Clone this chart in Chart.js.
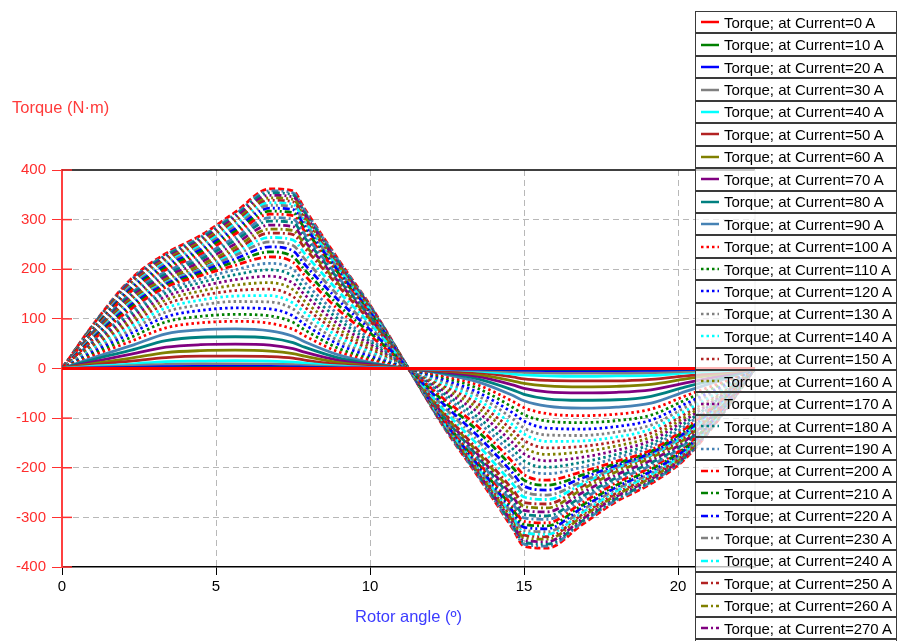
<!DOCTYPE html>
<html>
<head>
<meta charset="utf-8">
<title>Torque vs rotor angle</title>
<script src="https://cdn.jsdelivr.net/npm/chart.js@4/dist/chart.umd.min.js"></script>
<style>
    html, body { margin: 0; padding: 0; background: #fff; overflow: hidden; }
    #wrap { position: relative; width: 897px; height: 641px; }
    #ytitle { position: absolute; left: 12px; top: 98px; font: 16.5px "Liberation Sans", Arial, sans-serif; color: #ff3b3b; }
    #legend { position: absolute; left: 695px; top: 11px; width: 202px; }
    .row { box-sizing: border-box; height: 22.45px; border: 1px solid #3a3a3a; background: rgba(255, 255, 255, 0.72);
           display: flex; align-items: center; font: 15px "Liberation Sans", Arial, sans-serif; color: #000; white-space: nowrap; }
    .row svg { margin: 0 5px 0 5px; flex: none; }
</style>
</head>
<body>
<div id="wrap">
    <canvas id="torqueChart" width="897" height="641"></canvas>
    <div id="ytitle">Torque (N·m)</div>
    <div id="legend"></div>
</div>
<script>
// rotor angle (deg)
const angles = [0, 1.125, 2.25, 3.375, 4.5, 5.625, 6.75, 7.5, 7.875, 9, 10.125, 11.25,
                12.375, 13.5, 14.625, 15, 15.75, 16.875, 18, 19.125, 20.25, 21.375, 22.5];

const currents = [0, 10, 20, 30, 40, 50, 60, 70, 80, 90, 100, 110, 120, 130, 140, 150, 160, 170, 180, 190,
                  200, 210, 220, 230, 240, 250, 260, 270, 280, 290, 300, 310, 320, 330, 340, 350, 360, 370, 380, 390, 400];

// torque (N·m) per current
const t0   = [0, 0, 0, 0, 0, 0, 0, 0, 0, 0, 0, 0, 0, 0, 0, 0, 0, 0, 0, 0, 0, 0, 0];
const t10  = [0, 0.3, 0.6, 0.9, 1.0, 1.1, 1.0, 0.9, 0.7, 0.4, 0.2, 0, -0.2, -0.4, -0.7, -0.9, -1.0, -1.1, -1.0, -0.9, -0.6, -0.3, 0];
const t20  = [0, 1.3, 2.4, 3.7, 4.1, 4.2, 4, 3.4, 2.8, 1.4, 0.6, 0, -0.6, -1.4, -2.8, -3.4, -4, -4.2, -4.1, -3.7, -2.4, -1.3, 0];
const t30  = [0, 2.9, 5.5, 8.3, 9.3, 9.5, 9, 7.7, 6.4, 3.2, 1.4, 0, -1.4, -3.2, -6.4, -7.7, -9, -9.5, -9.3, -8.3, -5.5, -2.9, 0];
const t40  = [0, 5, 9, 14, 15, 16, 15, 13, 11, 5, 2, 0, -2, -5, -11, -13, -15, -16, -15, -14, -9, -5, 0];
const t50  = [0, 8, 15, 22, 25, 25, 24, 21, 17, 8, 4, 0, -4, -8, -17, -21, -24, -25, -25, -22, -15, -8, 0];
const t60  = [0, 11, 21, 32, 36, 37, 35, 30, 25, 12, 5, 0, -5, -12, -25, -30, -35, -37, -36, -32, -21, -11, 0];
const t70  = [0, 15, 29, 43, 48, 49, 47, 40, 33, 16, 7, 0, -7, -16, -33, -40, -47, -49, -48, -43, -29, -15, 0];
const t80  = [0, 20, 37, 56, 63, 64, 61, 52, 43, 21, 9, 0, -9, -21, -43, -52, -61, -64, -63, -56, -37, -20, 0];
const t90  = [0, 24, 46, 70, 78, 80, 76, 65, 54, 27, 11, 0, -11, -27, -54, -65, -76, -80, -78, -70, -46, -24, 0];
const t100 = [0, 29, 55, 82, 92, 95, 91, 79, 66, 33, 15, 0, -15, -33, -66, -79, -91, -95, -92, -82, -55, -29, 0];
const t110 = [0, 33, 63, 94, 105, 109, 106, 93, 78, 40, 18, 0, -18, -40, -78, -93, -106, -109, -105, -94, -63, -33, 0];
const t120 = [0, 37, 71, 104, 117, 122, 120, 106, 89, 48, 22, 0, -22, -48, -89, -106, -120, -122, -117, -104, -71, -37, 0];
const t130 = [0, 41, 78, 114, 128, 135, 134, 120, 101, 55, 26, 0, -26, -55, -101, -120, -134, -135, -128, -114, -78, -41, 0];
const t140 = [0, 45, 85, 122, 138, 146, 147, 132, 113, 63, 30, 0, -30, -63, -113, -132, -147, -146, -138, -122, -85, -45, 0];
const t150 = [0, 48, 91, 130, 147, 157, 160, 145, 124, 71, 34, 0, -34, -71, -124, -145, -160, -157, -147, -130, -91, -48, 0];
const t160 = [0, 52, 97, 138, 156, 168, 173, 159, 136, 79, 39, 0, -39, -79, -136, -159, -173, -168, -156, -138, -97, -52, 0];
const t170 = [0, 55, 103, 145, 165, 179, 186, 172, 149, 88, 44, 0, -44, -88, -149, -172, -186, -179, -165, -145, -103, -55, 0];
const t180 = [0, 58, 109, 152, 173, 189, 199, 186, 161, 98, 49, 0, -49, -98, -161, -186, -199, -189, -173, -152, -109, -58, 0];
const t190 = [0, 61, 115, 158, 180, 199, 212, 200, 174, 107, 54, 0, -54, -107, -174, -200, -212, -199, -180, -158, -115, -61, 0];
const t200 = [0, 64, 120, 164, 187, 208, 225, 214, 188, 117, 60, 0, -60, -117, -188, -214, -225, -208, -187, -164, -120, -64, 0];
const t210 = [0, 66, 124, 167, 191, 215, 235, 225, 199, 126, 65, 0, -65, -126, -199, -225, -235, -215, -191, -167, -124, -66, 0];
const t220 = [0, 68, 128, 170, 195, 221, 245, 237, 210, 136, 71, 0, -71, -136, -210, -237, -245, -221, -195, -170, -128, -68, 0];
const t230 = [0, 70, 131, 172, 198, 228, 255, 248, 221, 145, 76, 0, -76, -145, -221, -248, -255, -228, -198, -172, -131, -70, 0];
const t240 = [0, 72, 134, 174, 200, 233, 264, 259, 232, 154, 82, 0, -82, -154, -232, -259, -264, -233, -200, -174, -134, -72, 0];
const t250 = [0, 74, 137, 175, 202, 238, 273, 270, 243, 164, 87, 0, -87, -164, -243, -270, -273, -238, -202, -175, -137, -74, 0];
const t260 = [0, 76, 141, 180, 208, 244, 281, 278, 250, 169, 90, 0, -90, -169, -250, -278, -281, -244, -208, -180, -141, -76, 0];
const t270 = [0, 78, 145, 185, 214, 251, 289, 286, 257, 173, 92, 0, -92, -173, -257, -286, -289, -251, -214, -185, -145, -78, 0];
const t280 = [0, 80, 149, 190, 220, 258, 297, 294, 264, 178, 95, 0, -95, -178, -264, -294, -297, -258, -220, -190, -149, -80, 0];
const t290 = [0, 82, 152, 195, 225, 264, 304, 301, 271, 182, 97, 0, -97, -182, -271, -301, -304, -264, -225, -195, -152, -82, 0];
const t300 = [0, 84, 156, 199, 230, 271, 311, 308, 277, 187, 100, 0, -100, -187, -277, -308, -311, -271, -230, -199, -156, -84, 0];
const t310 = [0, 86, 159, 203, 235, 276, 317, 314, 282, 190, 101, 0, -101, -190, -282, -314, -317, -276, -235, -203, -159, -86, 0];
const t320 = [0, 87, 162, 207, 239, 281, 323, 320, 287, 194, 103, 0, -103, -194, -287, -320, -323, -281, -239, -207, -162, -87, 0];
const t330 = [0, 89, 165, 211, 243, 286, 329, 326, 293, 197, 105, 0, -105, -197, -293, -326, -329, -286, -243, -211, -165, -89, 0];
const t340 = [0, 90, 167, 214, 247, 291, 334, 331, 297, 200, 107, 0, -107, -200, -297, -331, -334, -291, -247, -214, -167, -90, 0];
const t350 = [0, 92, 170, 217, 251, 295, 339, 336, 302, 203, 108, 0, -108, -203, -302, -336, -339, -295, -251, -217, -170, -92, 0];
const t360 = [0, 93, 172, 220, 255, 299, 344, 341, 306, 206, 110, 0, -110, -206, -306, -341, -344, -299, -255, -220, -172, -93, 0];
const t370 = [0, 94, 175, 223, 258, 304, 349, 346, 311, 209, 112, 0, -112, -209, -311, -346, -349, -304, -258, -223, -175, -94, 0];
const t380 = [0, 96, 177, 227, 262, 308, 354, 350, 315, 212, 113, 0, -113, -212, -315, -350, -354, -308, -262, -227, -177, -96, 0];
const t390 = [0, 97, 179, 229, 265, 311, 358, 354, 319, 215, 115, 0, -115, -215, -319, -354, -358, -311, -265, -229, -179, -97, 0];
const t400 = [0, 98, 181, 232, 268, 315, 362, 358, 322, 217, 116, 0, -116, -217, -322, -358, -362, -315, -268, -232, -181, -98, 0];

const torqueSeries = [t0, t10, t20, t30, t40, t50, t60, t70, t80, t90, t100, t110, t120, t130, t140, t150, t160, t170, t180, t190,
                      t200, t210, t220, t230, t240, t250, t260, t270, t280, t290, t300, t310, t320, t330, t340, t350, t360, t370, t380, t390, t400];

const yTicks = [-400, -300, -200, -100, 0, 100, 200, 300, 400];
const xTicks = [0, 5, 10, 15, 20];

const palette = ['#ff0000', '#008000', '#0000ff', '#808080', '#00ffff', '#b22222', '#808000', '#800080', '#008080', '#4682b4'];
// one dash style per block of ten currents
const dashes = [[], [2.5, 3], [7, 3, 2, 3], [7, 3, 2, 3, 2, 3], [6, 3]];

const FONT = '"Liberation Sans", Arial, sans-serif';

const datasets = currents.map((c, i) => ({
    label: 'Torque; at Current=' + c + ' A',
    data: torqueSeries[i].map((v, k) => ({ x: angles[k], y: v })),
    borderColor: palette[i % 10],
    borderDash: dashes[Math.floor(i / 10)],
    borderWidth: 2.8,
    pointRadius: 0,
    fill: false,
    cubicInterpolationMode: 'monotone'
}));

// top / right frame and the red tick stubs inside the plot
const framePlugin = {
    id: 'frame',
    beforeDatasetsDraw(chart) {
        const { ctx, chartArea: a, scales } = chart;
        ctx.save();
        ctx.strokeStyle = '#000';
        ctx.lineWidth = 1.5;
        ctx.beginPath();
        ctx.moveTo(a.left, a.top);
        ctx.lineTo(a.right, a.top);
        ctx.stroke();
        ctx.strokeStyle = '#c8c8c8';
        ctx.lineWidth = 1;
        ctx.beginPath();
        ctx.moveTo(a.right, a.top);
        ctx.lineTo(a.right, a.bottom);
        ctx.stroke();
        ctx.strokeStyle = '#ff3030';
        ctx.lineWidth = 1.5;
        yTicks.forEach(v => {
            const y = scales.y.getPixelForValue(v);
            ctx.beginPath();
            ctx.moveTo(a.left, y);
            ctx.lineTo(a.left + 10, y);
            ctx.stroke();
        });
        ctx.restore();
    }
};

new Chart(document.getElementById('torqueChart').getContext('2d'), {
    type: 'line',
    data: { datasets: datasets },
    options: {
        responsive: false,
        animation: false,
        devicePixelRatio: 1,
        layout: { padding: { top: 170, right: 142, bottom: 12, left: 0 } },
        plugins: {
            legend: { display: false },
            tooltip: { enabled: false }
        },
        scales: {
            x: {
                type: 'linear',
                min: 0,
                max: 22.5,
                afterFit: s => { s.height = 62; },
                afterBuildTicks: s => { s.ticks = xTicks.map(v => ({ value: v })); },
                ticks: { color: '#000', font: { family: FONT, size: 15 }, padding: 3 },
                grid: {
                    color: c => c.tick && c.tick.value === 0 ? 'rgba(0,0,0,0)' : '#b8b8b8',
                    tickColor: '#000',
                    tickLength: 8
                },
                border: { color: '#000', width: 1.5, dash: [6, 4] },
                title: {
                    display: true,
                    text: 'Rotor angle (º)',
                    color: '#3c3cff',
                    font: { family: FONT, size: 16.5 },
                    padding: { top: 4, bottom: 2 }
                }
            },
            y: {
                min: -400,
                max: 400,
                afterFit: s => { s.width = 62; },
                afterBuildTicks: s => { s.ticks = yTicks.map(v => ({ value: v })); },
                ticks: { color: '#ff2d2d', font: { family: FONT, size: 15 }, padding: 6 },
                grid: {
                    color: c => c.tick && (c.tick.value === 0 || Math.abs(c.tick.value) === 400) ? 'rgba(0,0,0,0)' : '#b8b8b8',
                    tickColor: '#ff3030',
                    tickLength: 10
                },
                border: { color: '#ff4040', width: 2, dash: [6, 4] }
            }
        }
    },
    plugins: [framePlugin]
});

// html legend, overflowing the bottom like the original
const legend = document.getElementById('legend');
datasets.forEach(d => {
    const row = document.createElement('div');
    row.className = 'row';
    const dash = d.borderDash.length ? ' stroke-dasharray="' + d.borderDash.join(' ') + '"' : '';
    row.innerHTML = '<svg width="18" height="6"><line x1="0" y1="3" x2="18" y2="3" stroke="' + d.borderColor +
        '" stroke-width="2.5"' + dash + '/></svg><span>' + d.label + '</span>';
    legend.appendChild(row);
});
</script>
</body>
</html>
